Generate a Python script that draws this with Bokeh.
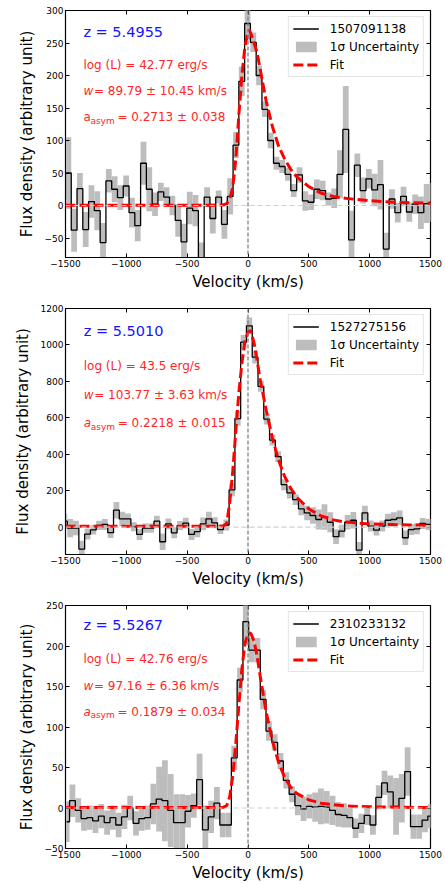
import numpy as np
from bokeh.plotting import figure
from bokeh.layouts import column
from bokeh.models import (Range1d, FixedTicker, LinearAxis, Span, Label, Legend,
                          LegendItem, CustomJSTickFormatter)
from bokeh.embed import file_html
from bokeh.resources import INLINE

# ---------------- data ----------------
bin_width = 47.5
x_ticks = [-1500, -1000, -500, 0, 500, 1000, 1500]

ids = ["1507091138", "1527275156", "2310233132"]
z_text = ["z = 5.4955", "z = 5.5010", "z = 5.5267"]
logL_text = ["log (L) = 42.77 erg/s", "log (L) = 43.5 erg/s", "log (L) = 42.76 erg/s"]
w_text = ["= 89.79 \u00b1 10.45 km/s", "= 103.77 \u00b1 3.63 km/s", "= 97.16 \u00b1 6.36 km/s"]
a_text = ["= 0.2713 \u00b1 0.038", "= 0.2218 \u00b1 0.015", "= 0.1879 \u00b1 0.034"]

# panel 1 : 1507091138
first_center1 = -1524.0
flux1 = [10, 50, -38, 26, -37, 6, -8, -57, 38, 25, 12, 30, -11, -31, 65, 25, 2, 21, 13, 0,
         -23, -56, -4, -8, -82, 13, -20, 13, -29, 14, 93, 191, 280, 251, 200, 148, 100, 65,
         60, 48, 23, 47, 7, 5, 25, 23, 10, 11, 48, 117, -53, 62, 23, 41, 24, 32, -67, 10,
         -11, 14, -10, 2, -11, 3, 5]
err1 = [30, 55, 33, 24, 27, 25, 30, 30, 18, 20, 19, 16, 23, 24, 33, 34, 18, 14, 15, 15, 25,
        28, 25, 24, 25, 15, 23, 10, 22, 28, 20, 23, 25, 15, 15, 12, 12, 10, 10, 10, 10,
        12, 15, 12, 15, 15, 10, 15, 37, 67, 45, 18, 20, 15, 25, 38, 25, 15, 15, 15, 15,
        15, 25, 30, 30]
fit_v1 = [-1500, -250, -200, -175, -150, -125, -100, -75, -50, -25, 0, 12, 25, 50, 75, 100,
          150, 200, 250, 300, 350, 400, 500, 600, 700, 800, 1000, 1200, 1500]
fit_f1 = [0.5, 0.5, 1, 3, 10, 28, 72, 140, 200, 245, 266, 270, 264, 250, 235, 210,
          160, 122, 92, 72, 56, 44, 29, 19, 14, 11, 7.5, 5, 3.5]
y_ticks1 = [-50, 0, 50, 100, 150, 200, 250, 300]

# panel 2 : 1527275156
first_center2 = -1509.0
flux2 = [33, -5, -5, -120, -38, -15, 10, 15, -30, 93, 45, 45, 2, -40, -5, -5, 33, -80, 18,
         -31, 9, 22, -40, -25, 18, 45, 24, -13, 12, 205, 596, 1015, 1105, 933, 773, 593,
         478, 387, 233, 188, 151, 100, 78, 64, 42, 56, 27, -52, -22, 27, 38, -126, 78, 6,
         -16, 6, 38, 42, 51, -58, -13, -9, 20, 15, 15]
err2 = [40, 50, 40, 45, 30, 25, 25, 30, 30, 45, 40, 30, 25, 30, 25, 25, 30, 45, 30, 30, 25,
        30, 30, 30, 35, 40, 30, 25, 30, 35, 40, 40, 45, 35, 30, 30, 30, 30, 30, 30, 30,
        35, 40, 45, 55, 70, 55, 40, 35, 40, 45, 45, 40, 30, 30, 30, 35, 40, 40, 40, 30,
        30, 30, 30, 30]
fit_v2 = [-1500, -250, -200, -175, -150, -125, -100, -75, -50, -25, 0, 15, 25, 50, 75, 100,
          150, 200, 250, 300, 350, 400, 500, 600, 700, 800, 1000, 1200, 1500]
fit_f2 = [5, 5, 8, 20, 135, 310, 530, 740, 900, 1020, 1070, 1078, 1072, 1010, 915, 810,
          640, 490, 370, 280, 215, 165, 100, 62, 40, 28, 18, 14, 10]
y_ticks2 = [0, 200, 400, 600, 800, 1000, 1200]

# panel 3 : 2310233132
first_center3 = -1490.5
flux3 = [-17, 9, -3, -13, -12, -16, -10, -18, -12, -21, -11, 0, -19, -13, -12, 5, 11, 9, -3,
         -18, -18, -4, 3, 35, -27, -11, 6, -21, -21, 62, 158, 230, 195, 195, 134, 95, 81,
         58, 34, 17, 3, -1, 2, 1, 2, 1, -3, -8, -9, -12, -25, -19, -9, -21, 13, 31, 20, 2,
         12, 45, -23, -23, -15, -10]
err3 = [25, 20, 15, 15, 15, 15, 15, 15, 15, 15, 15, 15, 15, 15, 15, 25, 40, 50, 45, 35, 35,
        20, 15, 32, 30, 20, 20, 15, 15, 15, 15, 28, 15, 15, 12, 12, 10, 10, 10, 10, 12,
        15, 15, 18, 22, 20, 18, 15, 15, 12, 12, 12, 12, 12, 15, 15, 20, 35, 30, 30, 15,
        15, 15, 15]
fit_v3 = [-1500, -250, -200, -175, -150, -125, -100, -75, -50, -25, 0, 15, 25, 50, 75, 100,
          150, 200, 250, 300, 350, 400, 500, 600, 700, 800, 1000, 1200, 1500]
fit_f3 = [0.5, 0.5, 1, 3, 14, 40, 80, 127, 172, 203, 215, 216, 215, 206, 187, 163,
          118, 83, 57, 38, 26, 18, 10, 6, 4, 2.5, 1.5, 1, 0.5]
y_ticks3 = [-50, 0, 50, 100, 150, 200, 250]

# ---------------- styling ----------------
FONT = "DejaVu Sans"
RED_TXT = "#ff2626"
minus_fmt = "return (tick < 0 ? '\u2212' : '') + Math.abs(tick).toString();"


def make_panel(first_center, flux, err, fit_v, fit_f, ylo, yhi, yticks, pid, ztxt,
               ltxt, wtxt, atxt, a_style, height, top, bottom, left, text_x, text_y):
    flux = np.asarray(flux, dtype=float)
    err = np.asarray(err, dtype=float)
    assert len(flux) == len(err)
    vel = first_center + bin_width * np.arange(len(flux))

    p = figure(width=445, height=height, x_range=Range1d(-1500, 1500),
               y_range=Range1d(ylo, yhi), output_backend="svg", toolbar_location=None,
               min_border_left=left, min_border_right=15, min_border_top=top,
               min_border_bottom=bottom, background_fill_color="white",
               border_fill_color="white")
    p.grid.visible = False
    p.outline_line_color = "black"
    p.outline_line_width = 1.2
    p.outline_line_alpha = 1.0

    r_band = p.quad(left=vel - bin_width / 2, right=vel + bin_width / 2,
                    bottom=flux - err, top=flux + err, fill_color="#bdbdbd",
                    line_color=None)
    r_step = p.step(vel, flux, mode="center", line_color="black", line_width=1.3)
    r_fit = p.line(fit_v, fit_f, line_color="red", line_width=3, line_dash="10 4")

    p.add_layout(Span(location=0, dimension="width", line_color="#d0d0d0",
                      line_dash="5 3", line_width=1.2))
    p.add_layout(Span(location=0, dimension="height", line_color="#808080",
                      line_dash="4 2", line_width=1.3))

    # axes
    xt = FixedTicker(ticks=x_ticks)
    yt = FixedTicker(ticks=yticks)
    for ax, tk in ((p.xaxis[0], xt), (p.yaxis[0], yt)):
        ax.ticker = tk
        ax.formatter = CustomJSTickFormatter(code=minus_fmt)
        ax.major_tick_in = 4
        ax.major_tick_out = 0
        ax.minor_tick_line_color = None
        ax.axis_line_color = "black"
        ax.major_tick_line_color = "black"
        ax.major_label_text_font = FONT
        ax.major_label_text_font_size = "9px"
        ax.major_label_text_color = "black"
        ax.axis_label_text_font = FONT
        ax.axis_label_text_font_size = "15px"
        ax.axis_label_text_font_style = "normal"
        ax.axis_label_text_color = "black"
        ax.major_label_standoff = 2
    p.xaxis[0].axis_label = "Velocity (km/s)"
    p.xaxis[0].axis_label_standoff = 3
    p.yaxis[0].axis_label = "Flux density (arbitrary unit)"
    p.yaxis[0].axis_label_standoff = 6

    # tick marks only on the top and right edges (no labels drawn)
    for side, tk in (("right", yt), ("above", xt)):
        ax = LinearAxis(ticker=tk, major_tick_in=4, major_tick_out=0,
                        minor_tick_line_color=None, axis_line_color=None,
                        major_label_text_font_size="1px", major_label_text_color=None,
                        major_label_standoff=0, major_tick_line_color="black")
        p.add_layout(ax, side)

    # legend
    legend = Legend(items=[LegendItem(label=pid, renderers=[r_step]),
                           LegendItem(label="1\u03c3 Uncertainty", renderers=[r_band]),
                           LegendItem(label="Fit", renderers=[r_fit])],
                    location="top_right", margin=6, padding=4, spacing=3,
                    label_height=15, glyph_height=13, glyph_width=26,
                    label_standoff=11, label_text_font=FONT,
                    label_text_font_size="12px", label_text_color="black",
                    border_line_color="#cccccc", border_line_width=1,
                    background_fill_color="white", background_fill_alpha=0.85)
    p.add_layout(legend)

    # annotations
    zy, ly, wy, ay = text_y
    common = dict(text_font=FONT, text_baseline="middle", text_align="left")
    p.add_layout(Label(x=text_x, y=zy, text=ztxt, text_color="#1414ff",
                       text_font_size="14.5px", **common))
    p.add_layout(Label(x=text_x, y=ly, text=ltxt, text_color=RED_TXT,
                       text_font_size="12px", **common))
    p.add_layout(Label(x=text_x, y=wy, text="w", text_color=RED_TXT,
                       text_font_size="12px", text_font_style="italic", **common))
    p.add_layout(Label(x=text_x, y=wy, x_offset=10.5, text=wtxt, text_color=RED_TXT,
                       text_font_size="12px", **common))
    p.add_layout(Label(x=text_x, y=ay, text="a", text_color=RED_TXT,
                       text_font_size="12px", text_font_style=a_style, **common))
    p.add_layout(Label(x=text_x, y=ay, x_offset=7, y_offset=-3.5, text="asym",
                       text_color=RED_TXT, text_font_size="9px", **common))
    p.add_layout(Label(x=text_x, y=ay, x_offset=34, text=atxt, text_color=RED_TXT,
                       text_font_size="12px", **common))
    return p


p1 = make_panel(first_center1, flux1, err1, fit_v1, fit_f1, -80, 300, y_ticks1, ids[0],
                z_text[0], logL_text[0], w_text[0], a_text[0], "normal",
                295, 10, 38, 62, -1353, (267, 216, 176, 136))
p2 = make_panel(first_center2, flux2, err2, fit_v2, fit_f2, -150, 1200, y_ticks2, ids[1],
                z_text[1], logL_text[1], w_text[1], a_text[1], "italic",
                295, 13, 35, 65, -1350, (1078, 882, 723, 570))
p3 = make_panel(first_center3, flux3, err3, fit_v3, fit_f3, -50, 250, y_ticks3, ids[2],
                z_text[2], logL_text[2], w_text[2], a_text[2], "italic",
                294, 15, 32, 62, -1353, (226, 184, 151, 119))

layout = column(p1, p2, p3, spacing=0)
open("out.html", "w").write(file_html(layout, INLINE))
